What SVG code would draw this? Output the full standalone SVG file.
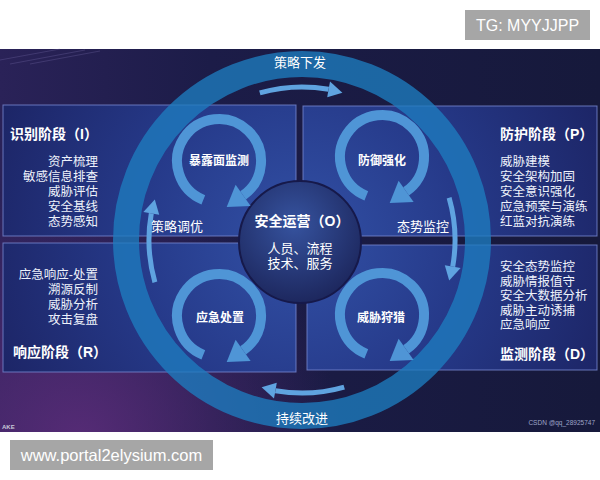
<svg xmlns="http://www.w3.org/2000/svg" width="600" height="480" viewBox="0 0 600 480">
<defs>
<style>
.t{font-family:"Liberation Sans","Noto Sans CJK SC",sans-serif;fill:#ffffff}
.title{font-size:14px;font-weight:700}
.item{font-size:12.5px;fill:#eef2fb}
.lbl{font-size:12px;font-weight:700}
.rl{font-size:13px;text-anchor:middle}
.end{text-anchor:end}
.mid{text-anchor:middle}
.panel{fill:url(#panelFill);stroke:#7484cc;stroke-width:1;stroke-opacity:0.85}
.tag{fill:#a6a6a6}
.tagt{font-family:"Liberation Sans",Arial,sans-serif;fill:#ffffff;text-anchor:middle}
.spin{fill:none;stroke:#4f95d6;stroke-width:10}
.spinh{fill:#4f95d6}
.ra{fill:none;stroke:#5fa3e0;stroke-width:5}
.rah{fill:#5fa3e0}
</style>
<linearGradient id="bg" x1="0" y1="0" x2="1" y2="0">
<stop offset="0" stop-color="#2a2258"/>
<stop offset="0.35" stop-color="#1c1c48"/>
<stop offset="1" stop-color="#16193b"/>
</linearGradient>
<radialGradient id="glow" cx="80" cy="440" r="260" gradientUnits="userSpaceOnUse">
<stop offset="0" stop-color="#5e2d7c" stop-opacity="0.85"/>
<stop offset="1" stop-color="#5e2d7c" stop-opacity="0"/>
</radialGradient>
<radialGradient id="panelFill" cx="300" cy="240" r="320" gradientUnits="userSpaceOnUse">
<stop offset="0" stop-color="#3251a6"/>
<stop offset="0.5" stop-color="#263a8a"/>
<stop offset="1" stop-color="#1d2668"/>
</radialGradient>
<radialGradient id="hub" cx="0.45" cy="0.35" r="0.7">
<stop offset="0" stop-color="#36539f"/>
<stop offset="1" stop-color="#1b2459"/>
</radialGradient>
<g id="spinArrow">
<path class="spin" d="M -15.7 38.9 A 42 42 0 1 1 24.1 34.4"/>
<polygon class="spinh" points="31.6,45.1 16.6,23.8 7.7,45.9"/>
</g>
<g id="ringArrow">
<path class="ra" d="M 259.8 92.9 A 153 153 0 0 1 328.6 89.3"/>
<polygon class="rah" points="330,81.4 342.4,92.8 327.2,97.2"/>
</g>
</defs>

<!-- background -->
<rect x="0" y="0" width="600" height="480" fill="#ffffff"/>
<rect x="0" y="49" width="600" height="383" fill="url(#bg)"/>
<rect x="0" y="49" width="600" height="383" fill="url(#glow)"/>
<g stroke="#8a7fc0" stroke-opacity="0.25" stroke-width="1">
<line x1="0" y1="60" x2="60" y2="49"/>
<line x1="10" y1="64" x2="85" y2="50"/>
<line x1="30" y1="64" x2="100" y2="51"/>
</g>

<!-- panels -->
<g id="panel-identify">
<rect class="panel" x="3" y="105" width="293" height="131"/>
<text class="t title" x="10" y="139">识别阶段（I）</text>
<text class="t item end" x="98" y="166"><tspan x="98">资产梳理</tspan><tspan x="98" dy="15">敏感信息排查</tspan><tspan x="98" dy="15">威胁评估</tspan><tspan x="98" dy="15">安全基线</tspan><tspan x="98" dy="15">态势感知</tspan></text>
</g>
<g id="panel-protect">
<rect class="panel" x="303" y="106" width="294" height="130"/>
<text class="t title" x="500" y="139">防护阶段（P）</text>
<text class="t item" x="500" y="166"><tspan x="500">威胁建模</tspan><tspan x="500" dy="15">安全架构加固</tspan><tspan x="500" dy="15">安全意识强化</tspan><tspan x="500" dy="15">应急预案与演练</tspan><tspan x="500" dy="15">红蓝对抗演练</tspan></text>
</g>
<g id="panel-respond">
<rect class="panel" x="3" y="243" width="293" height="129"/>
<text class="t item end" x="98" y="279"><tspan x="98">应急响应-处置</tspan><tspan x="98" dy="15">溯源反制</tspan><tspan x="98" dy="15">威胁分析</tspan><tspan x="98" dy="15">攻击复盘</tspan></text>
<text class="t title" x="13" y="357">响应阶段（R）</text>
</g>
<g id="panel-detect">
<rect class="panel" x="307" y="245" width="290" height="125"/>
<text class="t item" x="500" y="271"><tspan x="500">安全态势监控</tspan><tspan x="500" dy="14.5">威胁情报值守</tspan><tspan x="500" dy="14.5">安全大数据分析</tspan><tspan x="500" dy="14.5">威胁主动诱捕</tspan><tspan x="500" dy="14.5">应急响应</tspan></text>
<text class="t title" x="500" y="359">监测阶段（D）</text>
</g>

<!-- big ring -->
<g id="ring">
<circle cx="302" cy="240" r="176" fill="none" stroke="#1d7cbf" stroke-width="26" stroke-opacity="0.78"/>
</g>

<!-- center hub -->
<g id="hub-node">
<circle cx="300" cy="242" r="61" fill="url(#hub)" stroke="#16194a" stroke-width="2"/>
<text class="t title mid" x="302" y="226">安全运营（O）</text>
<text class="t mid" x="300" y="253" font-size="13"><tspan x="300">人员、流程</tspan><tspan x="300" dy="15">技术、服务</tspan></text>
</g>

<!-- small cycle nodes -->
<g id="cycle-exposure">
<use href="#spinArrow" transform="translate(219,161)"/>
<text class="t lbl mid" x="219" y="165">暴露面监测</text>
</g>
<g id="cycle-defense">
<use href="#spinArrow" transform="translate(382,157)"/>
<text class="t lbl mid" x="382" y="165">防御强化</text>
</g>
<g id="cycle-emergency">
<use href="#spinArrow" transform="translate(219,316)"/>
<text class="t lbl mid" x="220" y="322">应急处置</text>
</g>
<g id="cycle-hunt">
<use href="#spinArrow" transform="translate(382,315)"/>
<text class="t lbl mid" x="381" y="322">威胁狩猎</text>
</g>

<!-- connectors: ring arrows -->
<g id="connectors">
<use href="#ringArrow"/>
<use href="#ringArrow" transform="rotate(90 302 240)"/>
<use href="#ringArrow" transform="rotate(180 302 240)"/>
<use href="#ringArrow" transform="rotate(270 302 240)"/>
</g>

<!-- ring labels -->
<g id="ring-labels">
<text class="t rl" x="300" y="67">策略下发</text>
<text class="t rl" x="423" y="231">态势监控</text>
<text class="t rl" x="177" y="231">策略调优</text>
<text class="t rl" x="302" y="423">持续改进</text>
</g>

<!-- small credits -->
<text x="595" y="425" font-family="Liberation Sans, Arial, sans-serif" font-size="6.5" fill="#9ea4c8" text-anchor="end">CSDN @qq_28925747</text>
<text x="2" y="429" font-family="Liberation Sans, Arial, sans-serif" font-size="6" font-weight="700" fill="#c8c8d8">AKE</text>

<!-- tags -->
<g id="tag-tg">
<rect class="tag" x="465" y="10" width="125" height="30"/>
<text class="tagt" x="527.5" y="31" font-size="16">TG: MYYJJPP</text>
</g>
<g id="tag-www">
<rect class="tag" x="10" y="440" width="203" height="30"/>
<text class="tagt" x="111.5" y="461" font-size="16.5">www.portal2elysium.com</text>
</g>
</svg>
